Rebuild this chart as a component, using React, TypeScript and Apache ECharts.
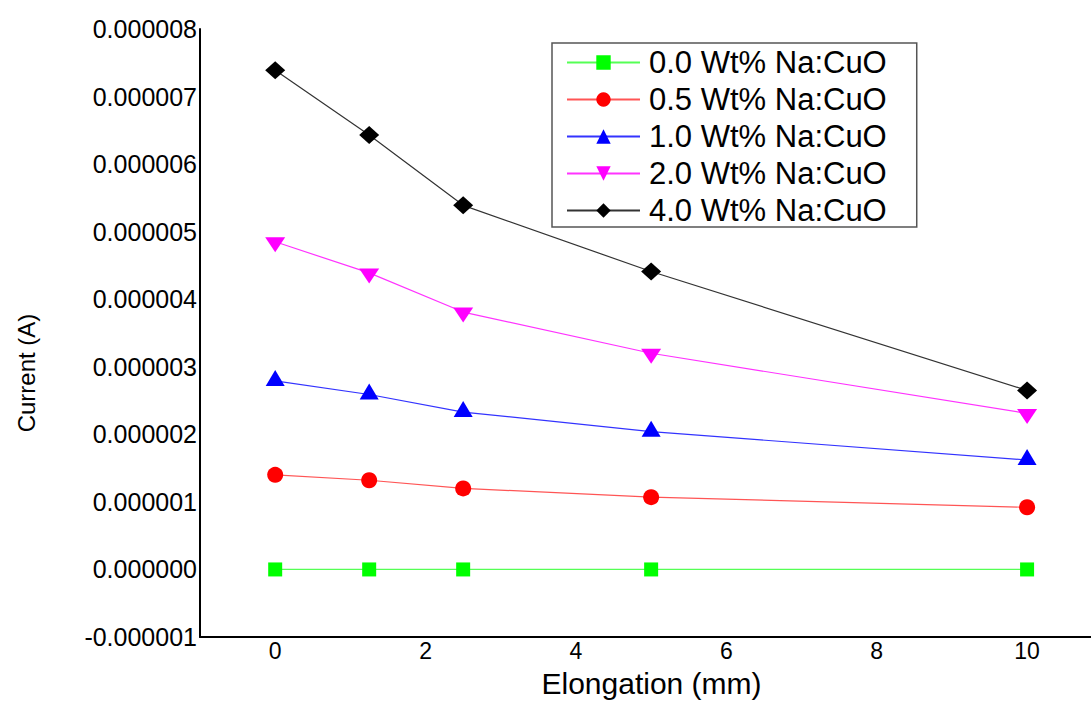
import React, { useEffect, useRef } from "react";
import * as echarts from "echarts";

const elongation = [0, 1.25, 2.5, 5, 10];
const seriesNames = [
  "0.0 Wt% Na:CuO",
  "0.5 Wt% Na:CuO",
  "1.0 Wt% Na:CuO",
  "2.0 Wt% Na:CuO",
  "4.0 Wt% Na:CuO",
];
const current00 = [0, 0, 0, 0, 0];
const current05 = [1.40e-6, 1.32e-6, 1.20e-6, 1.07e-6, 0.92e-6];
const current10 = [2.79e-6, 2.59e-6, 2.33e-6, 2.04e-6, 1.62e-6];
const current20 = [4.85e-6, 4.39e-6, 3.81e-6, 3.20e-6, 2.31e-6];
const current40 = [7.39e-6, 6.43e-6, 5.39e-6, 4.41e-6, 2.65e-6];
const xTicks = [0, 2, 4, 6, 8, 10];

const FONT = "'Liberation Sans', Arial, sans-serif";

export default function App() {
  const ref = useRef<HTMLDivElement>(null);
  useEffect(() => {
    if (!ref.current) return;
    const chart = echarts.init(ref.current, null, { renderer: "svg" });
    const pairs = (ys: number[]) => elongation.map((x, i) => [x, ys[i]]);
    const styles = [
      { data: current00, color: "#00ff00", line: "#55ff55", symbol: "rect", size: 14, offset: [0, 0] },
      { data: current05, color: "#ff0000", line: "#ff5555", symbol: "circle", size: 16, offset: [0, 0] },
      { data: current10, color: "#0000ff", line: "#3333ff", symbol: "triangle", size: [19, 16], offset: [0, -3] },
      { data: current20, color: "#ff00ff", line: "#ff33ff", symbol: "path://M0,0L10,0L5,9Z", size: [20, 15], offset: [0, 3] },
      { data: current40, color: "#000000", line: "#333333", symbol: "diamond", size: [20, 18], offset: [0, 0] },
    ];
    chart.setOption({
      animation: false,
      backgroundColor: "#ffffff",
      textStyle: { fontFamily: FONT },
      grid: { left: 200, right: 0, top: 29, bottom: 70, containLabel: false },
      legend: {
        left: 552,
        top: 43,
        orient: "vertical",
        itemWidth: 73,
        itemHeight: 18,
        itemGap: 6,
        padding: [4, 30, 1, 14],
        borderColor: "#555555",
        borderWidth: 1.5,
        borderRadius: 0,
        backgroundColor: "#ffffff",
        textStyle: { fontSize: 31, lineHeight: 30, color: "#000", fontFamily: FONT, padding: [0, 0, 0, 4] },
        data: seriesNames,
      },
      xAxis: {
        type: "value",
        min: -1,
        max: 10.85,
        name: "Elongation (mm)",
        nameLocation: "middle",
        nameGap: 31,
        nameTextStyle: { fontSize: 30, color: "#000", fontFamily: FONT, padding: [0, 0, 0, 12] },
        axisLine: { show: true, onZero: false, lineStyle: { color: "#000", width: 2 } },
        axisTick: { show: false },
        splitLine: { show: false },
        axisLabel: {
          customValues: xTicks,
          fontSize: 23,
          color: "#000",
          margin: 2,
          fontFamily: FONT,
        },
      },
      yAxis: {
        type: "value",
        min: -0.000001,
        max: 0.000008,
        interval: 0.000001,
        name: "Current (A)",
        nameLocation: "middle",
        nameGap: 162,
        nameTextStyle: { fontSize: 24, color: "#000", fontFamily: FONT, padding: [0, 80, 0, 0] },
        axisLine: { show: true, onZero: false, lineStyle: { color: "#000", width: 2 } },
        axisTick: { show: false },
        splitLine: { show: false },
        axisLabel: {
          fontSize: 25,
          color: "#000",
          margin: 3,
          formatter: (v: number) => v.toFixed(6),
        },
      },
      series: styles.map((s, i) => ({
        name: seriesNames[i],
        type: "line",
        data: pairs(s.data),
        symbol: s.symbol,
        symbolSize: s.size,
        symbolOffset: s.offset,
        showAllSymbol: true,
        itemStyle: { color: s.color },
        lineStyle: { color: s.line, width: 1.2 },
        emphasis: { disabled: true },
      })),
    });
    return () => chart.dispose();
  }, []);
  return (
    <div
      ref={ref}
      style={{ position: "absolute", left: 0, top: 0, width: 1091, height: 707 }}
    />
  );
}
